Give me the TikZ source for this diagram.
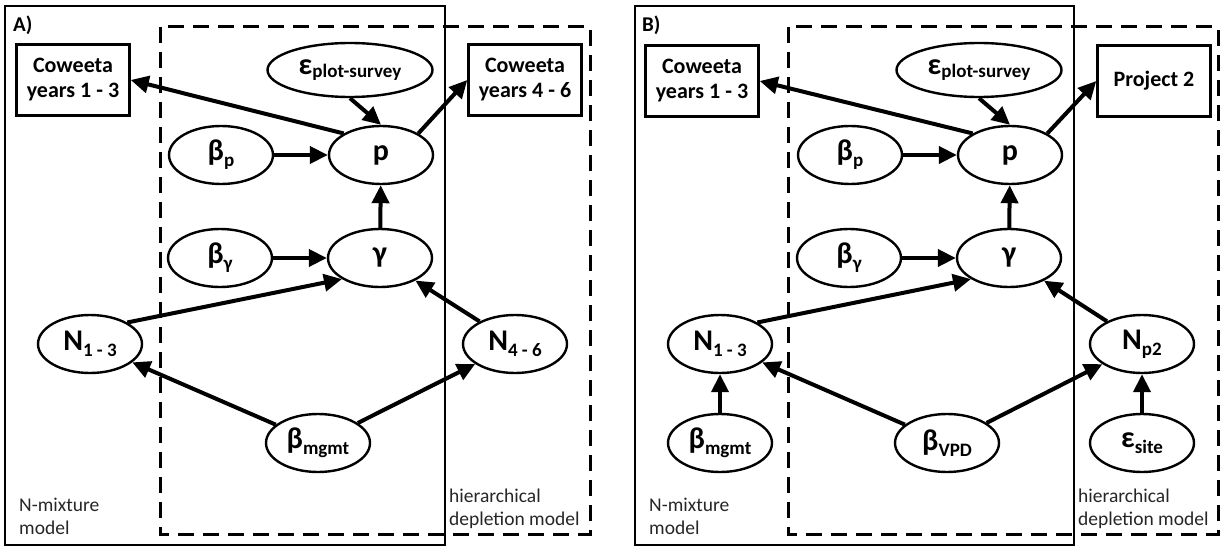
\documentclass[tikz,border=0pt]{standalone}
\usepackage{fontspec}
\setmainfont{Carlito}
\usetikzlibrary{arrows.meta,shapes.geometric}
\newcommand{\ms}[3][6pt]{{\fontsize{30}{32}\selectfont #2}\raisebox{-#1}{\fontsize{19}{19}\selectfont #3}}
\newcommand{\mn}[1]{{\fontsize{30}{32}\selectfont #1}}
\begin{document}
\begin{tikzpicture}[x=1pt,y=-1pt,
  var/.style={ellipse,draw,line width=2.4pt,fill=white,minimum width=104pt,minimum height=58pt,inner sep=0pt,font=\bfseries},
  obs/.style={rectangle,draw,line width=2.4pt,fill=white,minimum width=113pt,minimum height=71pt,inner sep=0pt,font=\bfseries\fontsize{22}{25}\selectfont,align=center},
  edge/.style={line width=4pt,-{Triangle[length=18pt,width=17pt]}},
  solidbox/.style={draw,line width=2.4pt},
  dashbox/.style={draw,line width=3pt,dash pattern=on 16pt off 9pt},
  note/.style={font=\fontsize{19.5}{23}\selectfont,align=left,anchor=west,inner sep=0pt,text=black!85},
  tag/.style={font=\bfseries\fontsize{21}{24}\selectfont,anchor=west,inner sep=0pt}]
\fill[white] (0,0) rectangle (1225,548);
\useasboundingbox (0,0) rectangle (1225,548);
% frames panel A
\draw[solidbox] (5,6) rectangle (445,545);
\draw[dashbox] (160,27) rectangle (590,534);
% frames panel B
\draw[solidbox] (635,6) rectangle (1074,545);
\draw[dashbox] (788,27) rectangle (1218,534);
% labels
\node[tag] (ta) at (13,25) {A)};
\node[tag] (tb) at (642,25) {B)};
\node[note] (nma) at (19,516) {N-mixture\\model};
\node[note] (hda) at (449,509) {hierarchical\\depletion model};
\node[note] (nmb) at (649,516) {N-mixture\\model};
\node[note] (hdb) at (1078,509) {hierarchical\\depletion model};
% panel A nodes
\node[obs] (c13a) at (73,80) {Coweeta\\years 1 - 3};
\node[obs] (c46a) at (525,80) {Coweeta\\years 4 - 6};
\node[var,minimum width=165pt,minimum height=54pt] (epsa) at (350,70) {\ms[3pt]{ε}{plot-survey}};
\node[var] (bpa) at (221,155) {\ms{β}{p}};
\node[var] (pa) at (381,155) {\mn{p}};
\node[var] (bga) at (220,258) {\ms{β}{γ}};
\node[var] (ga) at (380,258) {\mn{γ}};
\node[var] (n13a) at (90,344) {\ms{N}{1 - 3}};
\node[var] (n46a) at (515,344) {\ms{N}{4 - 6}};
\node[var] (bma) at (318,443) {\ms{β}{mgmt}};
% panel A edges
\draw[edge] (pa.150) -- (c13a.east);
\draw[edge] (epsa.south) -- (pa.north);
\draw[edge] (pa.30) -- (c46a.west);
\draw[edge] (bpa) -- (pa);
\draw[edge] (ga) -- (pa);
\draw[edge] (bga) -- (ga);
\draw[edge] (n13a.30) -- (ga.209);
\draw[edge] (n46a) -- (ga);
\draw[edge] (bma) -- (n13a);
\draw[edge] (bma) -- (n46a);
% panel B nodes
\node[obs] (c13b) at (702,81) {Coweeta\\years 1 - 3};
\node[obs] (proj) at (1154,81) {Project 2};
\node[var,minimum width=165pt,minimum height=54pt] (epsb) at (979,70) {\ms[3pt]{ε}{plot-survey}};
\node[var] (bpb) at (850,155) {\ms{β}{p}};
\node[var] (pb) at (1010,155) {\mn{p}};
\node[var] (bgb) at (849,258) {\ms{β}{γ}};
\node[var] (gb) at (1009,258) {\mn{γ}};
\node[var] (n13b) at (720,344) {\ms{N}{1 - 3}};
\node[var] (np2) at (1142,344) {\ms{N}{p2}};
\node[var] (bmb) at (720,443) {\ms{β}{mgmt}};
\node[var] (bvpd) at (947,443) {\ms{β}{VPD}};
\node[var] (esite) at (1142,443) {\ms{ε}{site}};
% panel B edges
\draw[edge] (pb.150) -- (c13b.east);
\draw[edge] (epsb.south) -- (pb.north);
\draw[edge] (pb.30) -- (proj.west);
\draw[edge] (bpb) -- (pb);
\draw[edge] (gb) -- (pb);
\draw[edge] (bgb) -- (gb);
\draw[edge] (n13b.30) -- (gb.209);
\draw[edge] (np2) -- (gb);
\draw[edge] (bmb) -- (n13b);
\draw[edge] (bvpd) -- (n13b);
\draw[edge] (bvpd) -- (np2);
\draw[edge] (esite) -- (np2);
\end{tikzpicture}
\end{document}
